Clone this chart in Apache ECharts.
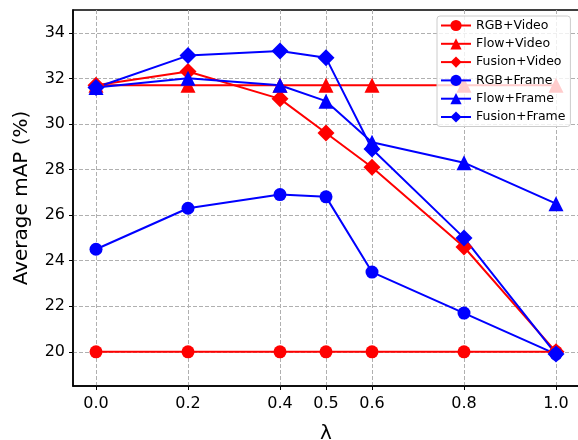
<!DOCTYPE html>
<html><head><meta charset="utf-8">
<script src="https://cdn.jsdelivr.net/npm/echarts@6/dist/echarts.min.js"></script>
<style>html,body{margin:0;padding:0;background:#fff}#c{width:578px;height:440px}</style>
</head><body><div id="c"></div>
<script>
const lambdas = [0.0, 0.2, 0.4, 0.5, 0.6, 0.8, 1.0];
const xTicks = [0.0, 0.2, 0.4, 0.5, 0.6, 0.8, 1.0];
const yTicks = [20, 22, 24, 26, 28, 30, 32, 34];
const rgbVideo = [20.0, 20.0, 20.0, 20.0, 20.0, 20.0, 20.0];
const flowVideo = [31.7, 31.7, 31.7, 31.7, 31.7, 31.7, 31.7];
const fusionVideo = [31.7, 32.3, 31.1, 29.6, 28.1, 24.6, 20.0];
const rgbFrame = [24.5, 26.3, 26.9, 26.8, 23.5, 21.7, 19.9];
const flowFrame = [31.6, 32.0, 31.7, 31.0, 29.2, 28.3, 26.5];
const fusionFrame = [31.6, 33.0, 33.2, 32.9, 28.9, 25.0, 19.9];
const names = ['RGB+Video','Flow+Video','Fusion+Video','RGB+Frame','Flow+Frame','Fusion+Frame'];

const RED = '#ff0000', BLUE = '#0000ff';
function mk(name, vals, color, symbol, size) {
  return {
    name, type: 'line', data: lambdas.map((x, i) => [x, vals[i]]),
    symbol, symbolSize: size, showSymbol: true,
    lineStyle: { color, width: 2 }, itemStyle: { color },
    emphasis: { disabled: true }, animation: false
  };
}
const chart = echarts.init(document.getElementById('c'));
const font = 'DejaVu Sans';
chart.setOption({
  animation: false,
  grid: { left: 73, top: 10, width: 506, height: 376, outerBoundsMode: 'none', containLabel: false,
          show: true, borderColor: '#000', borderWidth: 1.5, backgroundColor: 'transparent' },
  xAxis: {
    type: 'value', min: -0.05, max: 1.05,
    name: 'λ', nameLocation: 'middle', nameGap: 38,
    nameTextStyle: { fontFamily: font, fontSize: 20, color: '#000' },
    axisLine: { show: true, onZero: false, lineStyle: { color: '#000', width: 1.5 } },
    axisTick: { show: true, customValues: xTicks, length: 4, lineStyle: { color: '#000' } },
    axisLabel: { customValues: xTicks, fontFamily: font, fontSize: 16, color: '#000', margin: 10,
                 formatter: v => v.toFixed(1) },
    splitLine: { show: true, customValues: xTicks, lineStyle: { color: '#b0b0b0', type: [4, 2], width: 1 } }
  },
  yAxis: {
    type: 'value', min: 18.5, max: 35,
    name: 'Average mAP (%)', nameLocation: 'middle', nameGap: 41,
    nameTextStyle: { fontFamily: font, fontSize: 20, color: '#000' },
    axisLine: { show: true, onZero: false, lineStyle: { color: '#000', width: 1.5 } },
    axisTick: { show: true, customValues: yTicks, length: 4, lineStyle: { color: '#000' } },
    axisLabel: { customValues: yTicks, fontFamily: font, fontSize: 16, color: '#000', margin: 8 },
    splitLine: { show: true, customValues: yTicks, lineStyle: { color: '#b0b0b0', type: [4, 2], width: 1 } }
  },
  legend: {
    orient: 'vertical', left: 437, top: 16,
    padding: [3, 5, 3, 3], itemGap: 5.3, itemWidth: 30, itemHeight: 14,
    backgroundColor: 'rgba(255,255,255,0.8)', borderColor: '#cccccc', borderWidth: 1, borderRadius: 3,
    textStyle: { fontFamily: font, fontSize: 12.5, color: '#000' },
    data: names, z: 10
  },
  series: [
    mk(names[0], rgbVideo, RED, 'circle', 13),
    mk(names[1], flowVideo, RED, 'triangle', 15),
    mk(names[2], fusionVideo, RED, 'diamond', 17),
    mk(names[3], rgbFrame, BLUE, 'circle', 13),
    mk(names[4], flowFrame, BLUE, 'triangle', 15),
    mk(names[5], fusionFrame, BLUE, 'diamond', 17)
  ]
});
</script></body></html>
